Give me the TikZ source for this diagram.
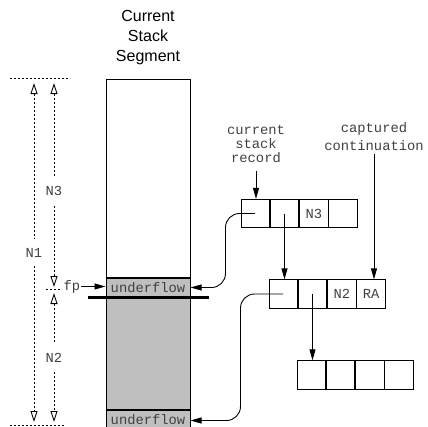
\documentclass[tikz,border=0pt]{standalone}
\usepackage{fontspec}
\setmonofont{Liberation Mono}
\newfontfamily\titlefont{Liberation Sans}
\usetikzlibrary{arrows.meta,positioning}
\tikzset{cell/.style={draw,line width=0.9pt,minimum width=28.4pt,minimum height=28.4pt,inner sep=0pt,font=\ttfamily\fontsize{13.8}{14}\selectfont,text=black!75},seg/.style={draw,line width=1pt,minimum width=84pt,inner sep=0pt},uflow/.style={seg,fill=black!25,minimum height=19pt,font=\ttfamily\fontsize{13.8}{14}\selectfont,text=black!75},lab/.style={font=\ttfamily\fontsize{13.8}{14}\selectfont,text=black!75,align=center,inner sep=1pt},link/.style={-{Triangle[length=11pt,width=6pt]},line width=0.9pt},dim/.style={{Triangle[open,length=11pt,width=7pt]}-{Triangle[open,length=11pt,width=7pt]},line width=0.9pt,dash pattern=on 2pt off 2pt},guide/.style={line width=0.9pt,dash pattern=on 2pt off 2pt}}
\begin{document}
\begin{tikzpicture}[x=1pt,y=-1pt]
\useasboundingbox (0,0) rectangle (428,426);\clip (0,0) rectangle (428,426);
\node[font=\titlefont\fontsize{16}{20}\selectfont,align=center] (title) at (148,38) {Current\\Stack\\Segment};
% stack segment
\node[seg,minimum height=198pt] (stack) at (148,178) {};\node[uflow,below=0pt of stack] (uf1) {underflow};\node[seg,fill=black!25,minimum height=111pt,below=0pt of uf1] (frame) {};\node[uflow,minimum height=21pt,below=0pt of frame] (uf2) {\raisebox{1.5pt}{underflow}};
\draw[line width=2.5pt] ([xshift=-18pt]uf1.south west) -- ([xshift=18pt]uf1.south east);
\node[lab] (fp) at (72,286.5) {fp};\draw[link] (fp.east) -- (fp.east -| uf1.west);
% stack records
\node[cell] (r1a) at (255.2,213.5) {};\node[cell,right=0pt of r1a] (r1b) {};\node[cell,right=0pt of r1b] (r1c) {N3};\node[cell,right=0pt of r1c] (r1d) {};
\node[cell] (r2a) at (283.2,294) {};\node[cell,right=0pt of r2a] (r2b) {};\node[cell,right=0pt of r2b] (r2c) {N2};\node[cell,right=0pt of r2c] (r2d) {RA};
\node[cell] (r3a) at (311.2,375) {};\node[cell,right=0pt of r3a] (r3b) {};\node[cell,right=0pt of r3b] (r3c) {};\node[cell,right=0pt of r3c] (r3d) {};
\node[lab] (csr) at (256,144) {current\\stack\\record};\node[lab,font=\ttfamily\fontsize{13.8}{18}\selectfont] (cc) at (374,137) {captured\\continuation};
\draw[link,shorten <=7pt] (csr.south) -- (csr.south |- r1a.north);\draw[link,shorten <=2pt] (cc.south) -- (cc.south |- r2d.north);
\draw[link] (r1b.center) -- (r1b.center |- r2a.north);\draw[link] (r2b.center) -- (r2b.center |- r3a.north);
\draw[link,rounded corners=14pt] (r1a.center) -| ([xshift=35pt]uf1.east) -- (uf1.east);\draw[link,rounded corners=14pt] (r2a.center) -| ([xshift=50pt]uf2.east) -- (uf2.east);
% frame sizes
\coordinate (n1top) at (34,83);\coordinate (n1bot) at (34,422);\coordinate (n3top) at (54,83);\coordinate (n3bot) at (54,287);\coordinate (n2top) at (54,293);\coordinate (n2bot) at (54,422);
\draw[guide] (10,78) -- (70,78);\draw[guide] (46,289.5) -- (60,289.5);\draw[guide] (10,425) -- (65,425);
\draw[dim] (n1top) -- node[lab,fill=white,inner ysep=9pt]{N1} (n1bot);\draw[dim] (n3top) -- node[lab,fill=white,inner ysep=9pt,pos=.53]{N3} (n3bot);\draw[dim] (n2top) -- node[lab,fill=white,inner ysep=9pt]{N2} (n2bot);
\end{tikzpicture}
\end{document}
